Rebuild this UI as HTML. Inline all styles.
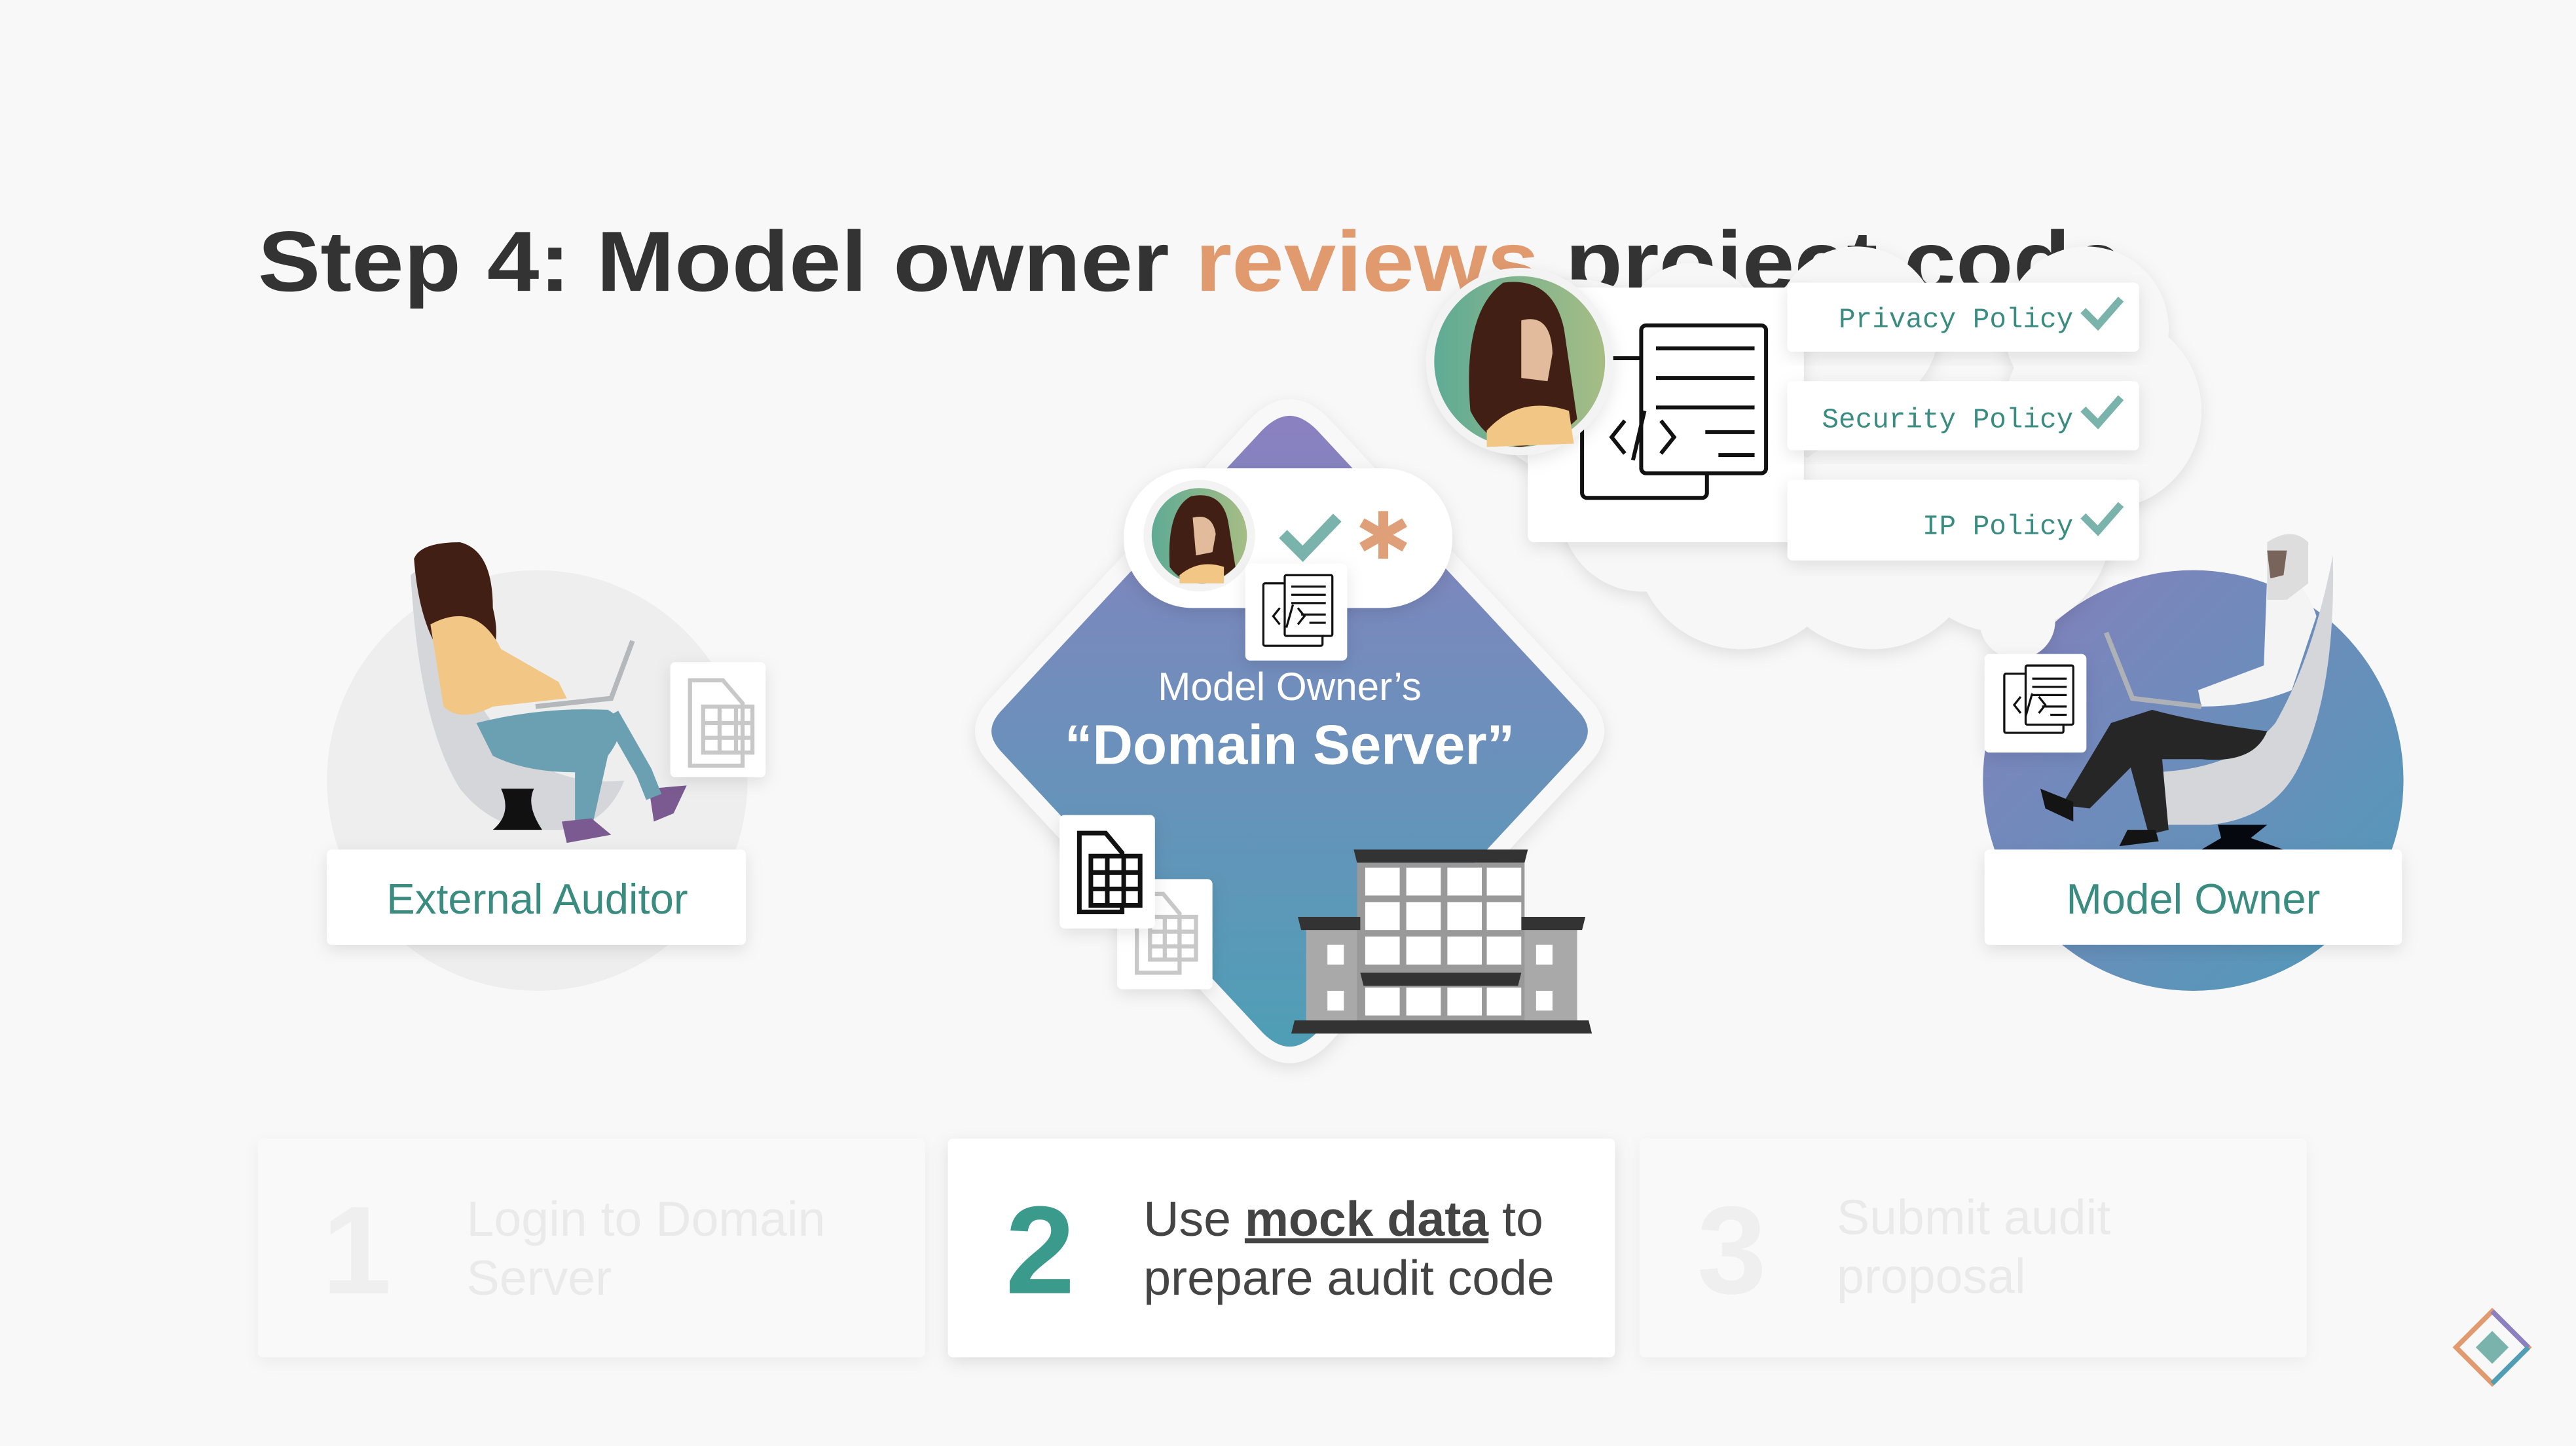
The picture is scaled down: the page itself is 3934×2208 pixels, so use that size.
<!DOCTYPE html>
<html><head><meta charset="utf-8"><style>
html,body{margin:0;padding:0;background:#f8f8f8;width:3934px;height:2208px;overflow:hidden}
svg{display:block}
text{font-family:"Liberation Sans","DejaVu Sans",sans-serif}
.mono{font-family:"Liberation Mono","DejaVu Sans Mono",monospace}
</style></head><body>
<svg width="3934" height="2208" viewBox="0 0 1568 880" xmlns="http://www.w3.org/2000/svg">
<defs>
<linearGradient id="dg" x1="0" y1="0" x2="0" y2="1"><stop offset="0" stop-color="#8b80c0"/><stop offset="1" stop-color="#4e9fb6"/></linearGradient>
<linearGradient id="rg" x1="0" y1="0" x2="1" y2="1"><stop offset="0" stop-color="#8580bd"/><stop offset="1" stop-color="#4f9bb8"/></linearGradient>
<linearGradient id="av" x1="0" y1="0" x2="1" y2="0"><stop offset="0" stop-color="#5fab95"/><stop offset="1" stop-color="#a6bd85"/></linearGradient>
<filter id="sh" x="-20%" y="-20%" width="140%" height="140%"><feDropShadow dx="0" dy="3" stdDeviation="5" flood-color="#000" flood-opacity="0.10"/></filter>
</defs>
<rect width="1568" height="880" fill="#f8f8f8"/>

<!-- Title -->
<text x="157" y="177" font-size="52" font-weight="bold" fill="#333" textLength="1135" lengthAdjust="spacingAndGlyphs">Step 4: Model owner <tspan fill="#e09a6e">reviews</tspan> project code</text>

<!-- Left circle + auditor -->
<circle cx="327" cy="475" r="128" fill="#eeeeee"/>
<g>
<path d="M250 350 Q255 440 280 480 Q300 505 330 505 L345 505 Q370 500 380 475 Q330 480 300 440 Q270 400 262 340 Z" fill="#d4d6d9"/>
<path d="M285 505 L345 505 L330 505 Q320 490 325 480 L305 480 Q312 495 300 505 Z" fill="#111"/>
<path d="M252 340 Q256 330 280 330 Q300 335 300 370 Q305 390 298 400 L270 400 Q255 380 252 340Z" fill="#421f14"/>
<path d="M262 380 Q290 365 305 395 L340 415 L345 425 L300 430 Q280 440 270 430Z" fill="#f2c685"/>
<path d="M290 440 Q330 430 370 432 Q385 440 370 460 L360 505 L350 505 L350 470 Q320 470 300 460Z" fill="#6aa0b2"/>
<path d="M342 500 L360 498 L372 508 L345 513Z" fill="#7a5a90"/>
<path d="M395 480 L418 478 L410 495 L398 500Z" fill="#7a5a90"/>
<path d="M372 435 L392 470 L398 485" stroke="#6aa0b2" stroke-width="10" fill="none"/>
<path d="M326 430 L372 425 L385 390" stroke="#b5b8bb" stroke-width="3" fill="none"/>
</g>
<rect x="408" y="403" width="58" height="70" rx="3" fill="#fff" filter="url(#sh)"/>
<g stroke="#c8c8c8" stroke-width="2.5" fill="none"><path d="M420 414 L440 414 L452 428 L452 466 L420 466 Z"/><rect x="428" y="430" width="30" height="28"/><path d="M438 430 V458 M448 430 V458 M428 440 H458 M428 449 H458"/></g>
<rect x="199" y="517" width="255" height="58" rx="3" fill="#fff" filter="url(#sh)"/>
<text x="327" y="556" font-size="26" fill="#3a8b80" text-anchor="middle">External Auditor</text>

<!-- Diamond -->
<path d="M785 248 Q795 248 805 258 L965 430 Q978 445 965 460 L805 632 Q795 642 785 642 Q775 642 765 632 L605 460 Q592 445 605 430 L765 258 Q775 248 785 248Z" fill="url(#dg)" stroke="#f8f8f8" stroke-width="10" filter="url(#sh)"/>
<rect x="684" y="285" width="200" height="85" rx="42" fill="#fff" filter="url(#sh)"/>
<circle cx="730" cy="326" r="34" fill="#f3f3f3"/>
<circle cx="730" cy="326" r="29" fill="url(#av)"/>
<path d="M712 345 Q710 310 725 302 Q745 298 748 320 L752 345 Q740 356 730 355 Q718 354 712 345Z" fill="#421f14"/>
<path d="M726 315 Q738 312 740 325 L738 336 L728 338Z" fill="#e2bb9c"/>
<path d="M718 350 Q730 340 745 345 L745 355 L718 355Z" fill="#f2c685"/>
<path d="M781 325 L793 337 L814 315" stroke="#79b3ac" stroke-width="7" fill="none"/>
<g stroke="#dfa079" stroke-width="6"><path d="M842 311 V340 M829 318 L855 333 M855 318 L829 333"/></g>
<rect x="758" y="343" width="62" height="59" rx="3" fill="#fff" filter="url(#sh)"/>
<g stroke="#111" stroke-width="1.3" fill="none"><rect x="769" y="355" width="36" height="38" rx="1"/><rect x="782" y="350" width="29" height="37" rx="1" fill="#fff"/><path d="M786 357 H807 M786 362 H807 M786 367 H807 M792 374 H807 M797 379 H807 M779 370 L775 375 L779 380 M787 368 L783 382 M790 370 L794 375 L790 380"/></g>
<text x="785" y="426" font-size="24" fill="#fff" text-anchor="middle">Model Owner’s</text>
<text x="785" y="465" font-size="34" font-weight="bold" fill="#fff" text-anchor="middle">“Domain Server”</text>
<rect x="680" y="535" width="58" height="67" rx="3" fill="#fff" filter="url(#sh)"/>
<g stroke="#c8c8c8" stroke-width="2.5" fill="none"><path d="M692 544 L708 544 L718 556 L718 592 L692 592 Z"/><rect x="700" y="558" width="28" height="26"/><path d="M709 558 V584 M718 558 V584 M700 567 H728 M700 576 H728"/></g>
<rect x="645" y="496" width="58" height="69" rx="3" fill="#fff" filter="url(#sh)"/>
<g stroke="#111" stroke-width="2.8" fill="none"><path d="M657 507 L673 507 L683 519 L683 555 L657 555 Z"/><rect x="664" y="521" width="30" height="30" fill="#fff"/><path d="M674 521 V551 M684 521 V551 M664 531 H694 M664 541 H694"/></g>
<!-- building -->
<g>
<rect x="795" y="565" width="165" height="58" fill="#a9a9a9"/>
<rect x="826" y="525" width="102" height="98" fill="#999"/>
<path d="M824 517 L930 517 L928 525 L826 525Z" fill="#333"/>
<path d="M790 558 L828 558 L828 566 L792 566Z M926 558 L965 558 L963 566 L926 566Z" fill="#333"/>
<path d="M828 592 L926 592 L924 600 L830 600Z" fill="#333"/>
<path d="M788 621 L967 621 L969 629 L786 629Z" fill="#333"/>
<g fill="#fff">
<rect x="831" y="528" width="21" height="17"/><rect x="856" y="528" width="21" height="17"/><rect x="881" y="528" width="21" height="17"/><rect x="905" y="528" width="21" height="17"/>
<rect x="831" y="549" width="21" height="17"/><rect x="856" y="549" width="21" height="17"/><rect x="881" y="549" width="21" height="17"/><rect x="905" y="549" width="21" height="17"/>
<rect x="831" y="570" width="21" height="17"/><rect x="856" y="570" width="21" height="17"/><rect x="881" y="570" width="21" height="17"/><rect x="905" y="570" width="21" height="17"/>
<rect x="831" y="601" width="21" height="17"/><rect x="856" y="601" width="21" height="17"/><rect x="881" y="601" width="21" height="17"/><rect x="905" y="601" width="21" height="17"/>
<rect x="808" y="575" width="10" height="12"/><rect x="808" y="603" width="10" height="12"/><rect x="935" y="575" width="10" height="12"/><rect x="935" y="603" width="10" height="12"/>
</g>
</g>

<!-- Right circle + model owner -->
<circle cx="1335" cy="475" r="128" fill="url(#rg)"/>
<g>
<path d="M1420 338 Q1422 420 1400 465 Q1385 498 1345 502 L1318 502 Q1300 490 1305 470 Q1360 470 1385 440 Q1408 400 1420 338Z" fill="#d4d6d9"/>
<path d="M1350 502 L1380 502 L1370 510 L1390 517 L1340 517 L1352 510Z" fill="#05080f"/>
<path d="M1380 350 Q1400 345 1410 375 L1395 420 Q1370 430 1340 430 L1338 420 L1378 405 Z" fill="#f4f4f4"/>
<path d="M1380 330 Q1395 320 1405 330 L1405 355 L1392 365 L1380 365Z" fill="#ddd"/>
<path d="M1380 335 L1392 335 L1390 350 L1382 352Z" fill="#78645a"/>
<path d="M1310 432 Q1340 440 1380 445 Q1372 465 1340 462 L1302 462 L1272 492 L1255 490 L1285 440Z" fill="#262626"/>
<path d="M1315 450 L1320 505 L1308 508 L1295 460Z" fill="#262626"/>
<path d="M1242 480 L1262 488 L1262 500 L1245 492Z M1295 505 L1312 505 L1314 512 L1290 515Z" fill="#141414"/>
<path d="M1282 385 L1298 425 L1340 430" stroke="#aeb2b6" stroke-width="3" fill="none"/>
</g>
<!-- Cloud -->
<g fill="#f7f7f7" filter="url(#sh)">
<circle cx="1228" cy="378" r="23"/>
<circle cx="1060" cy="330" r="65"/><circle cx="1140" cy="330" r="65"/><circle cx="1220" cy="320" r="65"/>
<circle cx="1280" cy="250" r="60"/><circle cx="1270" cy="200" r="50"/><circle cx="1000" cy="310" r="50"/>
<circle cx="960" cy="230" r="60"/><circle cx="1130" cy="200" r="50"/><circle cx="1030" cy="200" r="40"/>
</g>
<rect x="930" y="175" width="168" height="155" rx="4" fill="#fff" filter="url(#sh)"/>
<g stroke="#111" stroke-width="2.4" fill="none">
<rect x="963" y="218" width="76" height="85" rx="3"/>
<rect x="999" y="198" width="76" height="90" rx="3" fill="#fff"/>
<path d="M1008 212 H1068 M1008 230 H1068 M1008 248 H1068 M1038 263 H1068 M1046 277 H1068 M989 256 L981 266 L989 276 M1001 250 L994 280 M1011 256 L1019 266 L1011 276"/>
</g>
<circle cx="925" cy="220" r="57" fill="#f3f3f3" filter="url(#sh)"/>
<circle cx="925" cy="220" r="52" fill="url(#av)"/>
<path d="M895 250 Q890 190 915 172 Q945 168 952 200 L960 255 Q945 270 925 272 Q905 270 895 250Z" fill="#421f14"/>
<path d="M926 195 Q944 190 945 215 L942 232 L926 230Z" fill="#e2bb9c"/>
<path d="M905 262 Q925 240 955 250 L958 270 L905 272Z" fill="#f2c685"/>
<rect x="1088" y="172" width="214" height="42" rx="3" fill="#fff" filter="url(#sh)"/>
<rect x="1088" y="232" width="214" height="42" rx="3" fill="#fff" filter="url(#sh)"/>
<rect x="1088" y="292" width="214" height="49" rx="3" fill="#fff" filter="url(#sh)"/>
<g class="mono" font-size="17" fill="#3a8b80" text-anchor="end">
<text class="mono" x="1262" y="199">Privacy Policy</text>
<text class="mono" x="1262" y="260">Security Policy</text>
<text class="mono" x="1262" y="325">IP Policy</text>
</g>
<g stroke="#79b3ac" stroke-width="4.5" fill="none">
<path d="M1268 189 L1277 198 L1291 182"/><path d="M1268 249 L1277 258 L1291 242"/><path d="M1268 314 L1277 323 L1291 307"/>
</g>
<rect x="1208" y="398" width="62" height="60" rx="3" fill="#fff" filter="url(#sh)"/>
<g stroke="#111" stroke-width="1.3" fill="none"><rect x="1220" y="410" width="36" height="36" rx="1"/><rect x="1233" y="405" width="29" height="36" rx="1" fill="#fff"/><path d="M1237 413 H1258 M1237 418 H1258 M1237 423 H1258 M1243 430 H1258 M1248 435 H1258 M1230 424 L1226 429 L1230 434 M1237 422 L1233 436 M1241 424 L1245 429 L1241 434"/></g>
<rect x="1208" y="517" width="254" height="58" rx="3" fill="#fff" filter="url(#sh)"/>
<text x="1335" y="556" font-size="26" fill="#3a8b80" text-anchor="middle">Model Owner</text>

<!-- Bottom steps -->
<rect x="157" y="693" width="406" height="133" rx="3" fill="#fbfbfb" filter="url(#sh)" opacity="0.5"/>
<rect x="577" y="693" width="406" height="133" rx="3" fill="#fff" filter="url(#sh)"/>
<rect x="998" y="693" width="406" height="133" rx="3" fill="#fbfbfb" filter="url(#sh)" opacity="0.5"/>
<text x="196" y="787" font-size="76" font-weight="bold" fill="#efefef">1</text>
<text x="284" y="752" font-size="30" fill="#eaeaea">Login to Domain</text>
<text x="284" y="788" font-size="30" fill="#eaeaea">Server</text>
<text x="612" y="787" font-size="76" font-weight="bold" fill="#3a9a8c">2</text>
<text x="696" y="752" font-size="30" fill="#444">Use <tspan font-weight="bold" text-decoration="underline">mock data</tspan> to</text>
<text x="696" y="788" font-size="30" fill="#444">prepare audit code</text>
<text x="1033" y="787" font-size="76" font-weight="bold" fill="#efefef">3</text>
<text x="1118" y="751" font-size="30" fill="#eaeaea">Submit audit</text>
<text x="1118" y="787" font-size="30" fill="#eaeaea">proposal</text>

<!-- logo -->
<g transform="translate(1517 820)">
<path d="M0 -22 L22 0 L0 22 L-22 0Z" fill="none" stroke="#e09a6e" stroke-width="3"/>
<path d="M0 -22 L22 0" stroke="#8b80c0" stroke-width="3"/>
<path d="M22 0 L0 22" stroke="#4e9fb6" stroke-width="3"/>
<path d="M0 -10 L10 0 L0 10 L-10 0Z" fill="#79b3ac"/>
</g>
</svg>
</body></html>
